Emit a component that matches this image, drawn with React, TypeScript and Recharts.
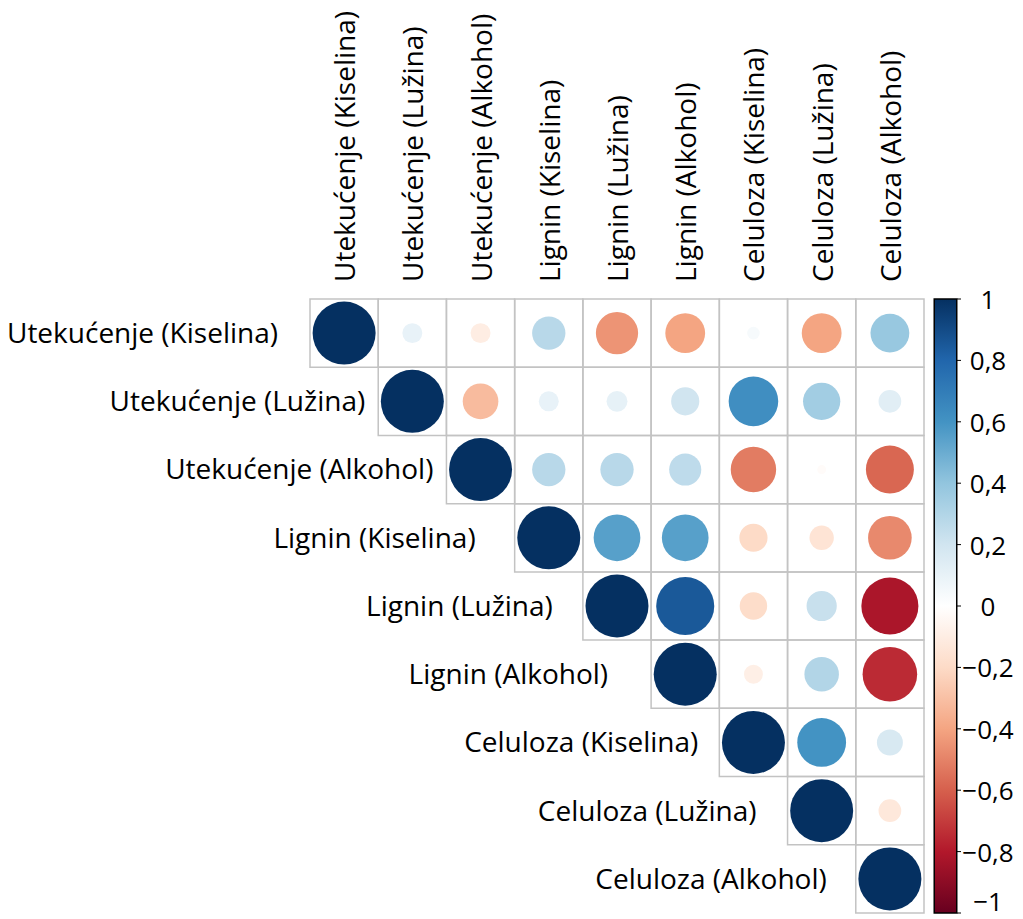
import { Cell, ReferenceArea, Scatter, ScatterChart, XAxis, YAxis, ZAxis } from 'recharts';

const FONT = '"Open Sans", sans-serif';

const variables = [
  'Utekućenje (Kiselina)',
  'Utekućenje (Lužina)',
  'Utekućenje (Alkohol)',
  'Lignin (Kiselina)',
  'Lignin (Lužina)',
  'Lignin (Alkohol)',
  'Celuloza (Kiselina)',
  'Celuloza (Lužina)',
  'Celuloza (Alkohol)',
];

// upper triangle, each row starts at the diagonal
const rowUtekKis = [1, 0.1, -0.1, 0.28, -0.45, -0.4, 0.04, -0.4, 0.38];
const rowUtekLuz = [1, -0.32, 0.1, 0.11, 0.2, 0.62, 0.35, 0.13];
const rowUtekAlk = [1, 0.28, 0.28, 0.26, -0.52, -0.02, -0.58];
const rowLigKis = [1, 0.55, 0.55, -0.2, -0.15, -0.48];
const rowLigLuz = [1, 0.85, -0.19, 0.23, -0.82];
const rowLigAlk = [1, -0.09, 0.3, -0.75];
const rowCelKis = [1, 0.6, 0.17];
const rowCelLuz = [1, -0.13];
const rowCelAlk = [1];

const colorbarTicks = [1, 0.8, 0.6, 0.4, 0.2, 0, -0.2, -0.4, -0.6, -0.8, -1];

const rows = [rowUtekKis, rowUtekLuz, rowUtekAlk, rowLigKis, rowLigLuz, rowLigAlk, rowCelKis, rowCelLuz, rowCelAlk];

// gap between each row label and its diagonal cell
const labelGaps = [32, 13, 13, 39, 30, 43, 21, 31, 29];

const RDBU = ['#67001F', '#B2182B', '#D6604D', '#F4A582', '#FDDBC7', '#FFFFFF', '#D1E5F0', '#92C5DE', '#4393C3', '#2166AC', '#053061'];

const hexToRgb = (h: string) => [1, 3, 5].map((i) => parseInt(h.slice(i, i + 2), 16));

const colorFor = (r: number) => {
  const t = ((r + 1) / 2) * (RDBU.length - 1);
  const i = Math.min(Math.floor(t), RDBU.length - 2);
  const f = t - i;
  const a = hexToRgb(RDBU[i]);
  const b = hexToRgb(RDBU[i + 1]);
  const c = a.map((v, k) => Math.round(v + (b[k] - v) * f));
  return `rgb(${c[0]},${c[1]},${c[2]})`;
};

const cells = rows.flatMap((vals, i) =>
  vals.map((r, k) => ({ row: i + 1, col: i + k + 1, r, size: Math.abs(r) }))
);

const fmt = (v: number) => {
  const s = Number.isInteger(v) ? String(v) : v.toFixed(1);
  return s.replace('.', ',').replace('-', '\u2212');
};

const ColumnTick = ({ x, y, payload }: any) => (
  <text
    x={x}
    y={y}
    transform={`rotate(-90 ${x} ${y})`}
    textAnchor="start"
    dominantBaseline="central"
    fontSize={28}
    fontFamily={FONT}
    fill="#000"
  >
    {variables[payload.value - 1]}
  </text>
);

const BarTick = ({ x, y, payload }: any) => (
  <g>
    <line x1={x + 33} x2={x + 37} y1={y} y2={y} stroke="#000" strokeWidth={1} />
    <text
      x={x + 64}
      y={y}
      dy={payload.value === -1 ? -12 : 0}
      textAnchor="middle"
      dominantBaseline="central"
      fontSize={26}
      fontFamily={FONT}
      fill="#000"
    >
      {fmt(payload.value)}
    </text>
  </g>
);

export default function App() {
  return (
    <div style={{ width: 1015, height: 911 }}>
      <svg width={0} height={0} style={{ position: 'absolute' }}>
        <defs>
          <linearGradient id="rdbu" x1="0" y1="0" x2="0" y2="1">
            {RDBU.map((c, k) => (
              <stop key={k} offset={k / (RDBU.length - 1)} stopColor={RDBU[RDBU.length - 1 - k]} />
            ))}
          </linearGradient>
        </defs>
      </svg>
      <ScatterChart width={1015} height={911} margin={{ top: 11, right: 0, bottom: 6, left: 302 }}>
        <XAxis
          dataKey="col"
          type="number"
          orientation="top"
          domain={[0.5, 9.5]}
          ticks={[1, 2, 3, 4, 5, 6, 7, 8, 9]}
          interval={0}
          height={280}
          axisLine={false}
          tickLine={false}
          tickSize={0}
          tickMargin={17}
          tick={<ColumnTick />}
          allowDataOverflow
        />
        <YAxis yAxisId="m" dataKey="row" type="number" domain={[0.5, 9.5]} reversed hide allowDataOverflow />
        <YAxis
          yAxisId="bar"
          orientation="right"
          type="number"
          dataKey="r"
          domain={[-1, 1]}
          ticks={colorbarTicks}
          interval={0}
          width={99}
          axisLine={false}
          tickLine={false}
          tickSize={0}
          tickMargin={0}
          tick={<BarTick />}
          allowDataOverflow
        />
        <ZAxis dataKey="size" type="number" domain={[0, 1]} range={[0, Math.PI * 31.5 * 31.5]} />
        {cells.map((c) => (
          <ReferenceArea
            key={`g-${c.row}-${c.col}`}
            yAxisId="m"
            x1={c.col - 0.5}
            x2={c.col + 0.5}
            y1={c.row - 0.5}
            y2={c.row + 0.5}
            fill="none"
            stroke="#c3c3c3"
            strokeWidth={1.5}
            label={
              c.row === c.col
                ? {
                    value: variables[c.row - 1],
                    position: 'left',
                    offset: labelGaps[c.row - 1],
                    fontSize: 28,
                    fontFamily: FONT,
                    fill: '#000',
                  }
                : undefined
            }
          />
        ))}
        <ReferenceArea
          yAxisId="bar"
          x1={9.65}
          x2={9.98}
          y1={-1}
          y2={1}
          fill="url(#rdbu)"
          fillOpacity={1}
          stroke="#000"
          strokeWidth={1.5}
          ifOverflow="visible"
        />
        <Scatter data={cells} yAxisId="m" isAnimationActive={false}>
          {cells.map((c) => (
            <Cell key={`c-${c.row}-${c.col}`} fill={colorFor(c.r)} />
          ))}
        </Scatter>
      </ScatterChart>
    </div>
  );
}
